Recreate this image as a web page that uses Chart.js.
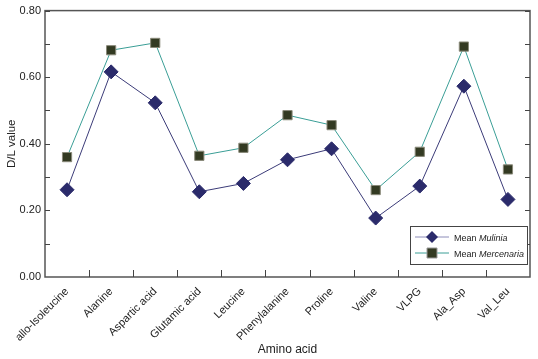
<!DOCTYPE html>
<html>
<head>
<meta charset="utf-8">
<script src="https://cdn.jsdelivr.net/npm/chart.js@4"></script>
<style>
  html, body { margin: 0; padding: 0; background: #fff; }
  #wrap { width: 538px; height: 359px; position: relative; }
</style>
</head>
<body>
<div id="wrap"><canvas id="aaChart" width="538" height="359"></canvas></div>
<script>
// data
const aminoAcids = ["allo-Isoleucine", "Alanine", "Aspartic acid", "Glutamic acid", "Leucine",
  "Phenylalanine", "Proline", "Valine", "VLPG", "Ala_Asp", "Val_Leu"];
const mulinia = [0.262, 0.616, 0.523, 0.256, 0.281, 0.352, 0.385, 0.177, 0.273, 0.573, 0.233];
const mercenaria = [0.360, 0.681, 0.703, 0.364, 0.388, 0.486, 0.456, 0.261, 0.376, 0.692, 0.323];
const yTicks = [0, 0.2, 0.4, 0.6, 0.8];

const font = "Liberation Sans, Arial, sans-serif";

// frame + inward ticks, like the original plot
const framePlugin = {
  id: "frame",
  afterDatasetsDraw(chart) {
    const ctx = chart.ctx;
    const a = chart.chartArea;
    const x = chart.scales.x;
    const y = chart.scales.y;
    ctx.save();
    ctx.strokeStyle = "#555";
    ctx.lineWidth = 1.5;
    ctx.strokeRect(a.left, a.top, a.right - a.left, a.bottom - a.top);
    ctx.lineWidth = 1;
    ctx.strokeStyle = "#444";
    ctx.beginPath();
    for (let v = 0.1; v < 0.8; v += 0.1) {
      let py = Math.round(y.getPixelForValue(v)) + 0.5;
      ctx.moveTo(a.left, py); ctx.lineTo(a.left + 5, py);
      ctx.moveTo(a.right, py); ctx.lineTo(a.right - 5, py);
    }
    for (let i = 1; i < aminoAcids.length; i++) {
      let px = Math.round((x.getPixelForValue(i - 1) + x.getPixelForValue(i)) / 2) + 0.5;
      ctx.moveTo(px, a.bottom); ctx.lineTo(px, a.bottom - 7);
    }
    ctx.stroke();
    ctx.restore();
  }
};

// legend box with italic species names
const legendPlugin = {
  id: "italicLegend",
  afterDraw(chart) {
    const ctx = chart.ctx;
    const bx = 410, by = 226, bw = 117, bh = 38;
    ctx.save();
    ctx.fillStyle = "#fff";
    ctx.fillRect(bx, by, bw, bh);
    ctx.strokeStyle = "#444";
    ctx.lineWidth = 1;
    ctx.strokeRect(bx + 0.5, by + 0.5, bw, bh);
    const rows = [
      { name: "Mulinia", line: "#8c8cb8", col: "#2b2b6b", shape: "diamond", y: by + 11 },
      { name: "Mercenaria", line: "#3a9e96", col: "#333a22", shape: "square", y: by + 27 }
    ];
    rows.forEach(r => {
      ctx.strokeStyle = r.line;
      ctx.beginPath();
      ctx.moveTo(bx + 5, r.y); ctx.lineTo(bx + 39, r.y);
      ctx.stroke();
      ctx.fillStyle = r.col;
      const cx = bx + 22;
      ctx.beginPath();
      if (r.shape === "diamond") {
        ctx.moveTo(cx, r.y - 6); ctx.lineTo(cx + 6, r.y); ctx.lineTo(cx, r.y + 6); ctx.lineTo(cx - 6, r.y);
        ctx.closePath(); ctx.fill();
      } else {
        ctx.rect(cx - 5, r.y - 5, 10, 10); ctx.fill();
        ctx.strokeStyle = "#999"; ctx.stroke();
      }
      ctx.fillStyle = "#222";
      ctx.textBaseline = "alphabetic";
      ctx.font = "9px " + font;
      ctx.fillText("Mean ", bx + 44, r.y + 3.5);
      let w = ctx.measureText("Mean ").width;
      ctx.font = "italic 9px " + font;
      ctx.fillText(r.name, bx + 44 + w, r.y + 3.5);
    });
    ctx.restore();
  }
};

let ctx = document.getElementById("aaChart").getContext("2d");
let aaChart = new Chart(ctx, {
  type: "line",
  data: {
    labels: aminoAcids,
    datasets: [
      {
        label: "Mean Mulinia",
        data: mulinia,
        borderColor: "#3b3b78",
        borderWidth: 1,
        backgroundColor: "#2b2b6b",
        pointStyle: "rectRot",
        pointRadius: 7,
        pointBorderColor: "#2b2b6b",
        pointBorderWidth: 1,
        tension: 0,
      },
      {
        label: "Mean Mercenaria",
        data: mercenaria,
        borderColor: "#3a9e96",
        borderWidth: 1,
        backgroundColor: "#333a22",
        pointStyle: "rect",
        pointRadius: 6.5,
        pointBorderColor: "#8a8a7a",
        pointBorderWidth: 1,
        tension: 0,
      },
    ],
  },
  options: {
    responsive: false,
    animation: false,
    layout: { padding: { top: 7, right: 2, left: 0, bottom: 0 } },
    plugins: {
      legend: { display: false },
      tooltip: { enabled: false },
    },
    scales: {
      x: {
        offset: true,
        grid: { display: false, drawTicks: false, tickLength: 0 },
        border: { display: false },
        ticks: {
          maxRotation: 45,
          minRotation: 45,
          color: "#222",
          padding: 8,
          font: { family: font, size: 11 },
        },
        title: {
          display: true,
          text: "Amino acid",
          color: "#222",
          padding: { top: 0, bottom: 2 },
          font: { family: font, size: 12 },
        },
        afterFit(scale) { scale.height = 82; },
      },
      y: {
        min: 0,
        max: 0.8,
        grid: { display: false, drawTicks: false, tickLength: 0 },
        border: { display: false },
        afterBuildTicks(scale) { scale.ticks = yTicks.map(v => ({ value: v })); },
        ticks: {
          color: "#222",
          padding: 4,
          font: { family: font, size: 11 },
          callback: (v) => v.toFixed(2),
        },
        title: {
          display: true,
          text: "D/L value",
          color: "#222",
          padding: { top: 5, bottom: 0 },
          font: { family: font, size: 11.5 },
        },
        afterFit(scale) { scale.width = 45; },
      },
    },
  },
  plugins: [framePlugin, legendPlugin],
});
</script>
</body>
</html>
